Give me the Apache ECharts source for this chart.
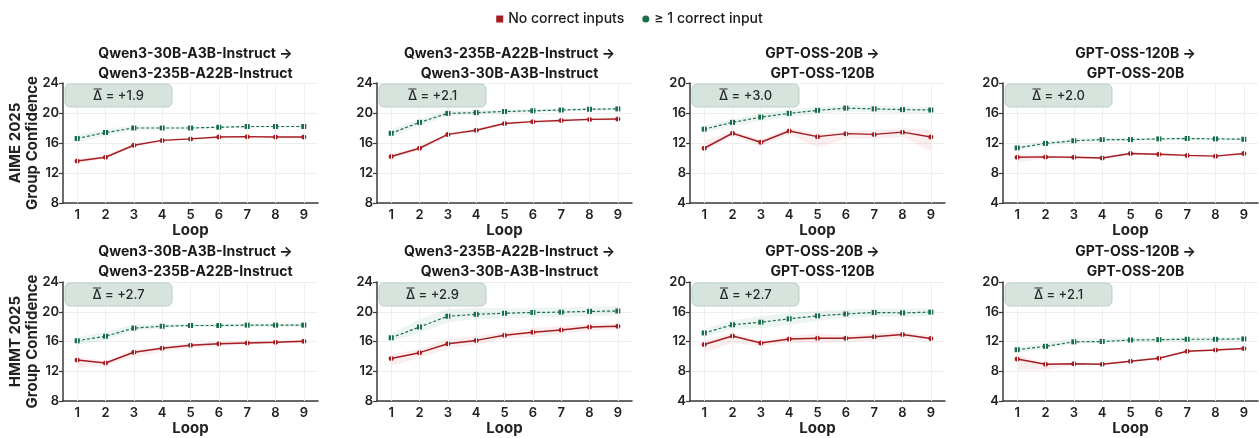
<!DOCTYPE html>
<html><head><meta charset="utf-8">
<script src="https://cdn.jsdelivr.net/npm/echarts@6/dist/echarts.min.js"></script>
<style>html,body{margin:0;padding:0;background:#fff}#c{width:1259px;height:438px}</style>
</head><body><div id="c"></div>
<script>
// ---------- data ----------
const loops = ['1','2','3','4','5','6','7','8','9'];
const panelTitles = [
  'Qwen3-30B-A3B-Instruct →\nQwen3-235B-A22B-Instruct',
  'Qwen3-235B-A22B-Instruct →\nQwen3-30B-A3B-Instruct',
  'GPT-OSS-20B →\nGPT-OSS-120B',
  'GPT-OSS-120B →\nGPT-OSS-20B'
];
const rowNames = ['AIME 2025', 'HMMT 2025'];
const yMins = [8, 8, 4, 4];
const yMaxs = [24, 24, 20, 20];
const deltas = [['+1.9','+2.1','+3.0','+2.0'], ['+2.7','+2.9','+2.7','+2.1']];

// AIME 2025
const aime1Green   = [16.6, 17.4, 18.0, 18.0, 18.0, 18.1, 18.2, 18.2, 18.2];
const aime1GreenLo = [16.1, 16.9, 17.7, 17.8, 17.8, 17.95, 18.05, 18.05, 18.05];
const aime1GreenHi = [17.1, 17.9, 18.3, 18.2, 18.2, 18.25, 18.35, 18.35, 18.35];
const aime1Red     = [13.6, 14.1, 15.7, 16.35, 16.55, 16.8, 16.85, 16.8, 16.8];
const aime1RedLo   = [13.3, 13.9, 15.5, 16.2, 16.4, 16.7, 16.75, 16.7, 16.7];
const aime1RedHi   = [13.9, 14.3, 15.9, 16.5, 16.7, 16.9, 16.95, 16.9, 16.9];

const aime2Green   = [17.3, 18.75, 19.95, 20.05, 20.2, 20.3, 20.4, 20.5, 20.55];
const aime2GreenLo = [16.8, 18.25, 19.6, 19.75, 19.95, 20.1, 20.2, 20.3, 20.35];
const aime2GreenHi = [17.8, 19.25, 20.3, 20.35, 20.45, 20.5, 20.6, 20.7, 20.75];
const aime2Red     = [14.2, 15.3, 17.15, 17.7, 18.6, 18.85, 19.0, 19.15, 19.2];
const aime2RedLo   = [13.9, 15.05, 16.95, 17.5, 18.4, 18.65, 18.8, 18.95, 19.0];
const aime2RedHi   = [14.5, 15.55, 17.35, 17.9, 18.8, 19.05, 19.2, 19.35, 19.4];

const aime3Green   = [13.85, 14.75, 15.45, 15.95, 16.35, 16.65, 16.55, 16.45, 16.4];
const aime3GreenLo = [13.4, 14.3, 14.9, 15.45, 15.9, 16.2, 16.1, 16.0, 15.95];
const aime3GreenHi = [14.3, 15.2, 16.0, 16.45, 16.8, 17.1, 17.0, 16.9, 16.85];
const aime3Red     = [11.3, 13.3, 12.1, 13.6, 12.85, 13.25, 13.15, 13.45, 12.8];
const aime3RedLo   = [10.9, 12.9, 11.6, 13.1, 11.4, 12.6, 12.5, 12.8, 10.9];
const aime3RedHi   = [12.3, 13.6, 12.5, 14.0, 13.2, 13.6, 13.7, 14.0, 13.8];

const aime4Green   = [11.35, 11.95, 12.3, 12.45, 12.45, 12.55, 12.6, 12.55, 12.5];
const aime4GreenLo = [11.1, 11.65, 12.0, 12.15, 12.2, 12.35, 12.4, 12.35, 12.3];
const aime4GreenHi = [11.6, 12.25, 12.6, 12.75, 12.7, 12.75, 12.8, 12.75, 12.7];
const aime4Red     = [10.1, 10.15, 10.1, 10.0, 10.6, 10.5, 10.35, 10.25, 10.6];
const aime4RedLo   = [9.4, 9.95, 9.95, 9.85, 10.45, 10.35, 10.2, 10.1, 10.45];
const aime4RedHi   = [10.5, 10.3, 10.25, 10.15, 10.75, 10.65, 10.5, 10.4, 10.75];

// HMMT 2025
const hmmt1Green   = [16.1, 16.7, 17.8, 18.05, 18.15, 18.15, 18.2, 18.2, 18.2];
const hmmt1GreenLo = [15.5, 16.2, 17.4, 17.8, 17.9, 17.9, 17.95, 17.95, 17.95];
const hmmt1GreenHi = [16.6, 17.3, 18.3, 18.35, 18.4, 18.4, 18.45, 18.45, 18.45];
const hmmt1Red     = [13.5, 13.1, 14.55, 15.1, 15.5, 15.7, 15.8, 15.9, 16.05];
const hmmt1RedLo   = [12.4, 12.8, 13.9, 14.6, 15.1, 15.4, 15.55, 15.7, 15.85];
const hmmt1RedHi   = [13.9, 13.4, 14.9, 15.4, 15.8, 15.95, 16.05, 16.1, 16.2];

const hmmt2Green   = [16.5, 17.95, 19.4, 19.65, 19.8, 19.9, 19.95, 20.05, 20.1];
const hmmt2GreenLo = [16.0, 17.1, 18.6, 19.0, 19.1, 19.2, 19.3, 19.4, 19.5];
const hmmt2GreenHi = [17.0, 19.0, 20.4, 20.5, 20.5, 20.55, 20.6, 20.7, 20.75];
const hmmt2Red     = [13.7, 14.5, 15.7, 16.15, 16.85, 17.25, 17.55, 17.95, 18.05];
const hmmt2RedLo   = [12.7, 13.8, 15.0, 15.6, 16.3, 16.6, 17.0, 17.4, 17.6];
const hmmt2RedHi   = [14.3, 15.0, 16.4, 16.7, 17.3, 17.8, 18.1, 18.4, 18.4];

const hmmt3Green   = [13.15, 14.25, 14.6, 15.05, 15.45, 15.7, 15.9, 15.85, 15.95];
const hmmt3GreenLo = [12.65, 13.65, 13.8, 14.25, 14.8, 15.1, 15.35, 15.25, 15.45];
const hmmt3GreenHi = [13.65, 14.85, 15.4, 15.85, 16.1, 16.3, 16.45, 16.45, 16.45];
const hmmt3Red     = [11.6, 12.75, 11.8, 12.35, 12.45, 12.45, 12.65, 12.95, 12.4];
const hmmt3RedLo   = [10.5, 11.8, 11.4, 11.8, 11.8, 12.0, 12.1, 12.4, 12.0];
const hmmt3RedHi   = [12.1, 13.2, 12.1, 12.7, 13.1, 12.8, 13.1, 13.3, 12.8];

const hmmt4Green   = [10.9, 11.35, 11.95, 12.0, 12.2, 12.25, 12.3, 12.3, 12.35];
const hmmt4GreenLo = [10.5, 11.0, 11.7, 11.8, 11.9, 11.9, 11.95, 11.95, 12.0];
const hmmt4GreenHi = [11.3, 11.8, 12.5, 12.5, 12.5, 12.55, 12.6, 12.6, 12.6];
const hmmt4Red     = [9.65, 8.95, 9.0, 8.95, 9.35, 9.75, 10.7, 10.85, 11.05];
const hmmt4RedLo   = [8.1, 8.15, 8.8, 8.85, 9.25, 9.65, 10.6, 10.75, 10.95];
const hmmt4RedHi   = [10.2, 9.1, 9.1, 9.05, 9.45, 9.85, 10.8, 10.95, 11.15];

const panels = [
  [ {g:aime1Green,gl:aime1GreenLo,gh:aime1GreenHi,r:aime1Red,rl:aime1RedLo,rh:aime1RedHi},
    {g:aime2Green,gl:aime2GreenLo,gh:aime2GreenHi,r:aime2Red,rl:aime2RedLo,rh:aime2RedHi},
    {g:aime3Green,gl:aime3GreenLo,gh:aime3GreenHi,r:aime3Red,rl:aime3RedLo,rh:aime3RedHi},
    {g:aime4Green,gl:aime4GreenLo,gh:aime4GreenHi,r:aime4Red,rl:aime4RedLo,rh:aime4RedHi} ],
  [ {g:hmmt1Green,gl:hmmt1GreenLo,gh:hmmt1GreenHi,r:hmmt1Red,rl:hmmt1RedLo,rh:hmmt1RedHi},
    {g:hmmt2Green,gl:hmmt2GreenLo,gh:hmmt2GreenHi,r:hmmt2Red,rl:hmmt2RedLo,rh:hmmt2RedHi},
    {g:hmmt3Green,gl:hmmt3GreenLo,gh:hmmt3GreenHi,r:hmmt3Red,rl:hmmt3RedLo,rh:hmmt3RedHi},
    {g:hmmt4Green,gl:hmmt4GreenLo,gh:hmmt4GreenHi,r:hmmt4Red,rl:hmmt4RedLo,rh:hmmt4RedHi} ]
];

// ---------- layout / style ----------
const FONT = 'Inter';
const RED = '#a51d22', GREEN = '#1b6e4a';
const colLeft = [63, 377, 690, 1003];
const plotW = 255;
const rowTop = [83, 282];
const plotH = [120, 119];
const titleTop = [39, 237];
const NAME_RED = 'No correct inputs', NAME_GREEN = '≥ 1 correct input';

const grids = [], xAxes = [], yAxes = [], series = [], titles = [], graphics = [];
const ctx = document.createElement('canvas').getContext('2d');

for (let r = 0; r < 2; r++) {
  for (let c = 0; c < 4; c++) {
    const idx = grids.length;
    const p = panels[r][c];
    grids.push({left: colLeft[c], top: rowTop[r], width: plotW, height: plotH[r], containLabel: false});
    xAxes.push({
      type: 'category', gridIndex: idx, data: loops, boundaryGap: true,
      name: 'Loop', nameLocation: 'middle', nameGap: 20,
      nameTextStyle: {fontFamily: FONT, fontSize: 15, fontWeight: 'bold', color: '#222'},
      axisLine: {lineStyle: {color: '#3a3a3a', width: 1.5}},
      axisTick: {alignWithLabel: true, length: 4, lineStyle: {color: '#3a3a3a', width: 1.2}},
      axisLabel: {fontFamily: FONT, fontSize: 13, fontWeight: 600, color: '#222', margin: 6},
      splitLine: {show: false}
    });
    const ya = {
      type: 'value', gridIndex: idx, min: yMins[c], max: yMaxs[c], interval: 4,
      axisLine: {show: true, lineStyle: {color: '#3a3a3a', width: 1.5}},
      axisTick: {show: true, length: 4, lineStyle: {color: '#3a3a3a', width: 1.2}},
      axisLabel: {fontFamily: FONT, fontSize: 13, fontWeight: 600, color: '#222', margin: 4},
      splitLine: {lineStyle: {color: '#eeeeee', width: 1}}
    };
    if (c === 0) {
      ya.name = rowNames[r] + '\nGroup Confidence';
      ya.nameLocation = 'middle';
      ya.nameRotate = 90;
      ya.nameGap = 22;
      ya.nameMoveOverlap = false;
      ya.nameTextStyle = {fontFamily: FONT, fontSize: 15, fontWeight: 'bold', color: '#222', lineHeight: 17};
    }
    yAxes.push(ya);

    // bands (stacked)
    const gDiff = p.gh.map((v, i) => +(v - p.gl[i]).toFixed(3));
    const rDiff = p.rh.map((v, i) => +(v - p.rl[i]).toFixed(3));
    series.push({
      type: 'line', xAxisIndex: idx, yAxisIndex: idx, stack: 'rb' + idx, data: p.rl,
      symbol: 'none', lineStyle: {opacity: 0}, silent: true, z: 1, name: 'rb-lo' + idx,
      markLine: {silent: true, symbol: 'none', label: {show: false},
        lineStyle: {color: '#efefef', width: 1, type: 'solid'},
        data: loops.map(l => ({xAxis: l}))}
    });
    series.push({
      type: 'line', xAxisIndex: idx, yAxisIndex: idx, stack: 'rb' + idx, data: rDiff,
      symbol: 'none', lineStyle: {opacity: 0}, silent: true, z: 1, name: 'rb-hi' + idx,
      areaStyle: {color: 'rgba(190,40,45,0.11)'}
    });
    series.push({
      type: 'line', xAxisIndex: idx, yAxisIndex: idx, stack: 'gb' + idx, data: p.gl,
      symbol: 'none', lineStyle: {opacity: 0}, silent: true, z: 1, name: 'gb-lo' + idx
    });
    series.push({
      type: 'line', xAxisIndex: idx, yAxisIndex: idx, stack: 'gb' + idx, data: gDiff,
      symbol: 'none', lineStyle: {opacity: 0}, silent: true, z: 1, name: 'gb-hi' + idx,
      areaStyle: {color: 'rgba(30,125,85,0.11)'}
    });
    series.push({
      type: 'line', xAxisIndex: idx, yAxisIndex: idx, name: NAME_RED, data: p.r,
      symbol: 'circle', symbolSize: 5, z: 3,
      itemStyle: {color: RED, borderWidth: 0}, lineStyle: {color: RED, width: 1.5}
    });
    series.push({
      type: 'line', xAxisIndex: idx, yAxisIndex: idx, name: NAME_GREEN, data: p.g,
      symbol: 'rect', symbolSize: 5, z: 4,
      itemStyle: {color: GREEN, borderWidth: 0}, lineStyle: {color: GREEN, width: 1.2, type: [3, 2]}
    });

    // titles
    titles.push({
      text: panelTitles[c], left: colLeft[c] + plotW / 2, top: titleTop[r],
      textAlign: 'center',
      textStyle: {fontFamily: FONT, fontSize: 14, fontWeight: 'bold', color: '#1a1a1a', lineHeight: 20}
    });

    // delta annotation box
    const bx = colLeft[c] + 2, by = rowTop[r] + 1, bw = 107, bh = 23;
    const txt = 'Δ = ' + deltas[r][c];
    ctx.font = '500 13px ' + FONT;
    const tw = ctx.measureText(txt).width;
    const dw = ctx.measureText('Δ').width;
    const tx = bx + bw / 2 - tw / 2;
    graphics.push({
      type: 'rect', shape: {x: bx, y: by, width: bw, height: bh, r: 5},
      style: {fill: '#d7e4dd', stroke: '#bccfc4', lineWidth: 1}, z: 10, silent: true
    });
    graphics.push({
      type: 'text', x: tx, y: by + bh / 2 + 1, z: 11, silent: true,
      style: {text: txt, font: '500 13px ' + FONT, fill: '#2a2a2a', textVerticalAlign: 'middle', verticalAlign: 'middle'}
    });
    graphics.push({
      type: 'line', z: 11, silent: true,
      shape: {x1: tx + 0.5, y1: by + 5, x2: tx + dw - 0.5, y2: by + 5},
      style: {stroke: '#2a2a2a', lineWidth: 1}
    });
  }
}

const chart = echarts.init(document.getElementById('c'), null, {renderer: 'canvas'});
chart.setOption({
  backgroundColor: '#ffffff',
  animation: false,
  title: titles,
  legend: {
    top: 7, left: 'center', itemWidth: 7, itemHeight: 7, itemGap: 18,
    textStyle: {fontFamily: FONT, fontSize: 14, fontWeight: 500, color: '#1a1a1a'},
    data: [{name: NAME_RED, icon: 'rect'}, {name: NAME_GREEN, icon: 'circle'}]
  },
  grid: grids, xAxis: xAxes, yAxis: yAxes, series: series, graphic: graphics
});
</script></body></html>
